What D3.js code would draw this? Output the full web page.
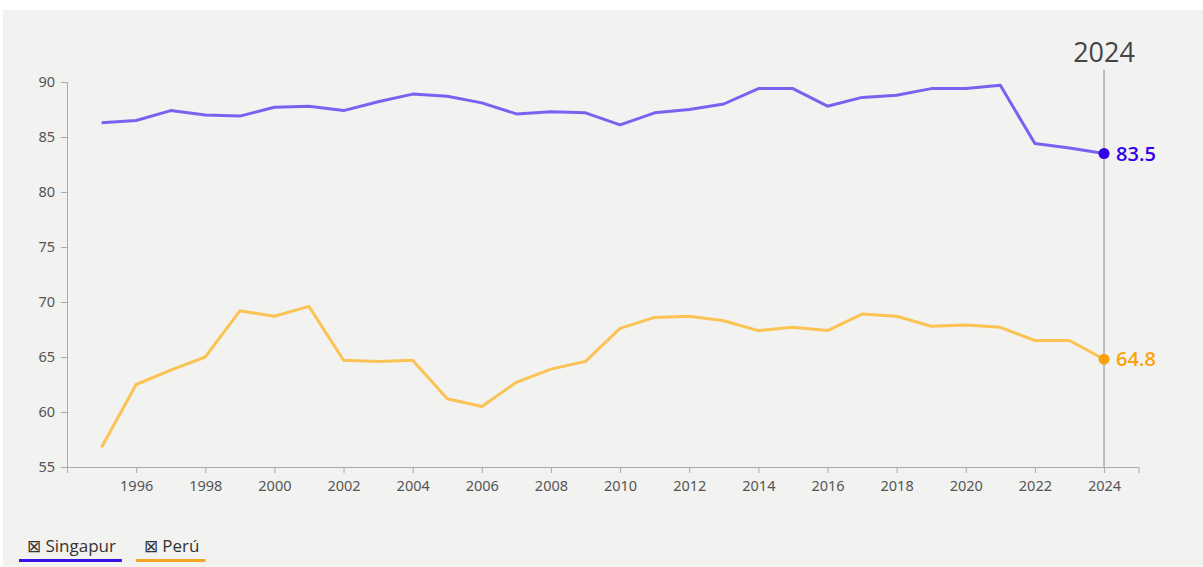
<!DOCTYPE html>
<html lang="es">
  <head>
    <meta charset="UTF-8" />
    <title>Singapur vs Perú</title>
    <script src="https://d3js.org/d3.v7.min.js"></script>
    <style>
      body { margin: 0; background: #fff; }
      .axis text { font-family: "Noto Sans", sans-serif; font-size: 14.5px; fill: #555; }
      .axis path, .axis line { stroke: #aaa; }
    </style>
  </head>
  <body>
    <svg width="1203" height="567"></svg>
    <script>
      var years = d3.range(1995, 2025);
      var singapur = [86.3, 86.5, 87.4, 87.0, 86.9, 87.7, 87.8, 87.4, 88.2, 88.9,
        88.7, 88.1, 87.1, 87.3, 87.2, 86.1, 87.2, 87.5, 88.0, 89.4,
        89.4, 87.8, 88.6, 88.8, 89.4, 89.4, 89.7, 84.4, 84.0, 83.5];
      var peru = [56.8, 62.5, 63.8, 65.0, 69.2, 68.7, 69.6, 64.7, 64.6, 64.7,
        61.2, 60.5, 62.7, 63.9, 64.6, 67.6, 68.6, 68.7, 68.3, 67.4,
        67.7, 67.4, 68.9, 68.7, 67.8, 67.9, 67.7, 66.5, 66.5, 64.8];
      var yTicks = [55, 60, 65, 70, 75, 80, 85, 90];
      var xTicks = d3.range(1996, 2025, 2);
      var series = [
        { name: "Singapur", values: singapur, line: "#7b61f0", dot: "#3300e8", legend: "#3a12e6" },
        { name: "Perú", values: peru, line: "#fbc354", dot: "#f7a40c", legend: "#f5a623" }
      ];
      var lastYear = 2024;

      var svg = d3.select("svg");

      svg.append("rect")
        .attr("x", 3).attr("y", 10)
        .attr("width", 1200).attr("height", 557)
        .attr("fill", "#f2f2f1");

      var x = d3.scaleLinear().domain([1994, 2025]).range([67, 1138.6]);
      var y = d3.scaleLinear().domain([55, 90]).range([467, 82]);

      svg.append("g")
        .attr("class", "axis")
        .attr("transform", "translate(0,467)")
        .call(d3.axisBottom(x).tickValues(xTicks).tickFormat(d3.format("d")).tickSizeInner(6).tickSizeOuter(6).tickPadding(8));

      svg.append("g")
        .attr("class", "axis")
        .attr("transform", "translate(67,0)")
        .call(d3.axisLeft(y).tickValues(yTicks).tickSizeInner(6).tickSizeOuter(6).tickPadding(6));

      // highlight line for last year
      svg.append("line")
        .attr("x1", x(lastYear)).attr("x2", x(lastYear))
        .attr("y1", 70).attr("y2", 467)
        .attr("stroke", "#aaa").attr("stroke-width", 1.5);

      svg.append("text")
        .attr("x", x(lastYear)).attr("y", 62)
        .attr("text-anchor", "middle")
        .attr("font-family", "'Open Sans', sans-serif")
        .attr("font-size", "27px")
        .attr("fill", "#444")
        .text(lastYear);

      var line = d3.line()
        .x(function (d, i) { return x(years[i]); })
        .y(function (d) { return y(d); });

      series.forEach(function (s) {
        svg.append("path")
          .datum(s.values)
          .attr("fill", "none")
          .attr("stroke", s.line)
          .attr("stroke-width", 3)
          .attr("stroke-linejoin", "round")
          .attr("d", line);

        var v = s.values[s.values.length - 1];
        svg.append("circle")
          .attr("cx", x(lastYear)).attr("cy", y(v))
          .attr("r", 5.5)
          .attr("fill", s.dot);

        svg.append("text")
          .attr("x", x(lastYear) + 12).attr("y", y(v))
          .attr("dy", "0.35em")
          .attr("font-family", "'Open Sans', sans-serif")
          .attr("font-size", "20px")
          .attr("font-weight", 600)
          .attr("fill", s.dot)
          .text(d3.format(".1f")(v));
      });

      // legend
      var lx = 19;
      series.forEach(function (s) {
        var t = svg.append("text")
          .attr("x", lx + 8).attr("y", 552)
          .attr("font-family", "'Open Sans', sans-serif")
          .attr("font-size", "17px")
          .attr("fill", "#333")
          .text("\u22A0 " + s.name);
        var w = t.node().getComputedTextLength();
        svg.append("rect")
          .attr("x", lx).attr("y", 559)
          .attr("width", w + 14).attr("height", 3)
          .attr("fill", s.legend);
        lx += w + 28;
      });
    </script>
  </body>
</html>
